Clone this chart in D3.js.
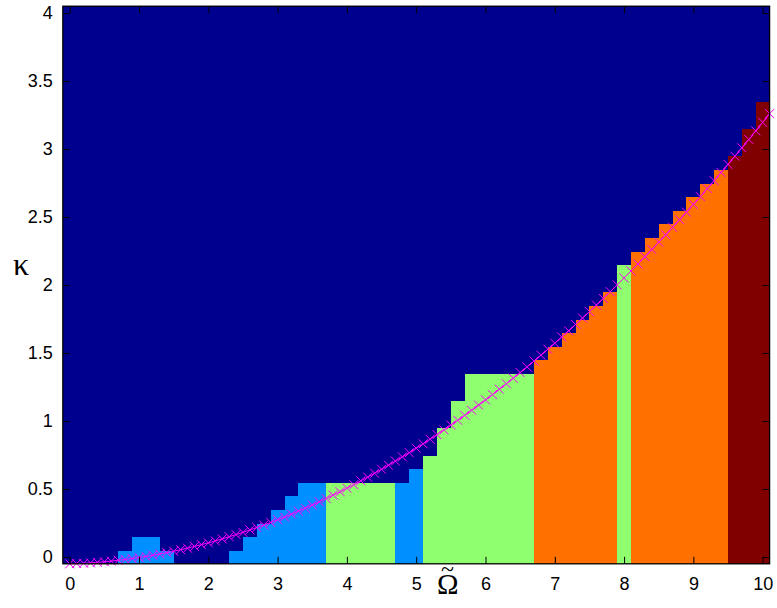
<!DOCTYPE html>
<html>
<head>
<meta charset="utf-8">
<script src="https://cdn.jsdelivr.net/npm/d3@7"></script>
<style>
  html, body { margin: 0; padding: 0; background: #fff; }
  svg { display: block; }
</style>
</head>
<body>
<div id="chart"></div>
<script>
// image columns (Omega centres), the colour level of each column and the
// kappa of the highest coloured cell (-1 = column is all background)
const cellOmega = [0, 0.2, 0.4, 0.6, 0.8, 1, 1.2, 1.4, 1.6, 1.8, 2, 2.2, 2.4, 2.6, 2.8, 3, 3.2, 3.4, 3.6, 3.8,
  4, 4.2, 4.4, 4.6, 4.8, 5, 5.2, 5.4, 5.6, 5.8, 6, 6.2, 6.4, 6.6, 6.8, 7, 7.2, 7.4, 7.6, 7.8,
  8, 8.2, 8.4, 8.6, 8.8, 9, 9.2, 9.4, 9.6, 9.8, 10];
const cellLevel = [0, 0, 0, 0, 1, 1, 1, 1, 0, 0, 0, 0, 1, 1, 1, 1, 1, 1, 1, 2,
  2, 2, 2, 2, 1, 1, 2, 2, 2, 2, 2, 2, 2, 2, 3, 3, 3, 3, 3, 3,
  2, 3, 3, 3, 3, 3, 3, 3, 4, 4, 4];
const cellTop = [-1, -1, -1, -1, 0, 0.1, 0.1, 0, -1, -1, -1, -1, 0, 0.1, 0.2, 0.3, 0.4, 0.5, 0.5, 0.5,
  0.5, 0.5, 0.5, 0.5, 0.5, 0.6, 0.7, 0.9, 1.1, 1.3, 1.3, 1.3, 1.3, 1.3, 1.4, 1.5, 1.6, 1.7, 1.8, 1.9,
  2.1, 2.2, 2.3, 2.4, 2.5, 2.6, 2.7, 2.8, 2.9, 3.1, 3.3];
// image rows (kappa centres)
const kappaRows = [0, 0.1, 0.2, 0.3, 0.4, 0.5, 0.6, 0.7, 0.8, 0.9, 1, 1.1, 1.2, 1.3, 1.4, 1.5, 1.6, 1.7, 1.8, 1.9,
  2, 2.1, 2.2, 2.3, 2.4, 2.5, 2.6, 2.7, 2.8, 2.9, 3, 3.1, 3.2, 3.3, 3.4, 3.5, 3.6, 3.7, 3.8, 3.9, 4];

// magenta curve
const curveOmega = [0, 0.1, 0.2, 0.3, 0.4, 0.5, 0.6, 0.7, 0.8, 0.9, 1, 1.1, 1.2, 1.3, 1.4, 1.5, 1.6, 1.7, 1.8, 1.9,
  2, 2.1, 2.2, 2.3, 2.4, 2.5, 2.6, 2.7, 2.8, 2.9, 3, 3.1, 3.2, 3.3, 3.4, 3.5, 3.6, 3.7, 3.8, 3.9,
  4, 4.1, 4.2, 4.3, 4.4, 4.5, 4.6, 4.7, 4.8, 4.9, 5, 5.1, 5.2, 5.3, 5.4, 5.5, 5.6, 5.7, 5.8, 5.9,
  6, 6.1, 6.2, 6.3, 6.4, 6.5, 6.6, 6.7, 6.8, 6.9, 7, 7.1, 7.2, 7.3, 7.4, 7.5, 7.6, 7.7, 7.8, 7.9,
  8, 8.1, 8.2, 8.3, 8.4, 8.5, 8.6, 8.7, 8.8, 8.9, 9, 9.1, 9.2, 9.3, 9.4, 9.5, 9.6, 9.7, 9.8, 9.9,
  10, 10.1];
const curveKappa = [-0.050, -0.048, -0.046, -0.043, -0.039, -0.035, -0.030, -0.024, -0.018, -0.011,
  -0.004, 0.004, 0.013, 0.022, 0.032, 0.042, 0.054, 0.065, 0.078, 0.091,
  0.104, 0.118, 0.133, 0.149, 0.165, 0.181, 0.199, 0.217, 0.235, 0.254,
  0.274, 0.294, 0.315, 0.337, 0.359, 0.382, 0.406, 0.430, 0.455, 0.480,
  0.506, 0.532, 0.560, 0.587, 0.616, 0.645, 0.675, 0.705, 0.736, 0.767,
  0.800, 0.832, 0.866, 0.900, 0.934, 0.970, 1.005, 1.042, 1.079, 1.117,
  1.155, 1.194, 1.234, 1.274, 1.315, 1.356, 1.398, 1.441, 1.484, 1.528,
  1.572, 1.618, 1.663, 1.710, 1.757, 1.804, 1.853, 1.901, 1.951, 2.001,
  2.052, 2.103, 2.155, 2.208, 2.261, 2.315, 2.369, 2.424, 2.480, 2.536,
  2.593, 2.650, 2.709, 2.767, 2.827, 2.887, 2.947, 3.009, 3.070, 3.133,
  3.196, 3.260];

const xTicks = [0, 1, 2, 3, 4, 5, 6, 7, 8, 9, 10];
const yTicks = [0, 0.5, 1, 1.5, 2, 2.5, 3, 3.5, 4];
const levelColors = ['#00008f', '#008fff', '#8fff70', '#ff7000', '#800000'];

const width = 777;
const height = 608;
const marginTop = 6.2;
const marginRight = 7.4;
const marginBottom = 44.2;
const marginLeft = 62.8;
const tickLen = 7;

const x = d3.scaleLinear()
  .domain([-0.1, 10.1])
  .range([marginLeft, width - marginRight]);

const y = d3.scaleLinear()
  .domain([-0.05, 4.05])
  .range([height - marginBottom, marginTop]);

const color = d3.scaleOrdinal().domain([0, 1, 2, 3, 4]).range(levelColors);

// build the image cells
const cells = [];
cellOmega.forEach((om, i) => {
  kappaRows.forEach(k => {
    const lev = k <= cellTop[i] + 1e-9 ? cellLevel[i] : 0;
    cells.push({ om, k, lev });
  });
});

const svg = d3.select('#chart')
  .append('svg')
  .attr('width', width)
  .attr('height', height)
  .attr('viewBox', [0, 0, width, height]);

svg.append('g')
  .attr('shape-rendering', 'crispEdges')
  .selectAll('rect')
  .data(cells)
  .join('rect')
  .attr('x', d => x(d.om - 0.1))
  .attr('y', d => y(d.k + 0.05))
  .attr('width', d => x(d.om + 0.1) - x(d.om - 0.1) + 0.5)
  .attr('height', d => y(d.k - 0.05) - y(d.k + 0.05) + 0.5)
  .attr('fill', d => color(d.lev));

// curve with x markers
const pts = curveOmega.map((om, i) => ({ om, k: curveKappa[i] }));
const line = d3.line()
  .x(d => x(d.om))
  .y(d => y(d.k));

svg.append('path')
  .datum(pts)
  .attr('fill', 'none')
  .attr('stroke', '#ff00ff')
  .attr('stroke-width', 1)
  .attr('d', line);

const m = 4.5;
svg.append('g')
  .selectAll('path')
  .data(pts)
  .join('path')
  .attr('d', d => {
    const cx = x(d.om), cy = y(d.k);
    return `M${cx - m},${cy - m}L${cx + m},${cy + m}M${cx - m},${cy + m}L${cx + m},${cy - m}`;
  })
  .attr('stroke', '#ff00ff')
  .attr('stroke-width', 1)
  .attr('fill', 'none');

// axes, ticks pointing inwards on all four sides
const fontTicks = '"Liberation Sans", Arial, Helvetica, sans-serif';

const gx = svg.append('g')
  .attr('transform', `translate(0,${height - marginBottom})`)
  .call(d3.axisBottom(x).tickValues(xTicks).tickFormat(d3.format('d'))
    .tickSizeInner(-tickLen).tickSizeOuter(0).tickPadding(13));

const gy = svg.append('g')
  .attr('transform', `translate(${marginLeft},0)`)
  .call(d3.axisLeft(y).tickValues(yTicks).tickFormat(d => String(d))
    .tickSizeInner(-tickLen).tickSizeOuter(0).tickPadding(10));

const gxTop = svg.append('g')
  .attr('transform', `translate(0,${marginTop})`)
  .call(d3.axisTop(x).tickValues(xTicks).tickFormat('')
    .tickSizeInner(-tickLen).tickSizeOuter(0));

const gyRight = svg.append('g')
  .attr('transform', `translate(${width - marginRight},0)`)
  .call(d3.axisRight(y).tickValues(yTicks).tickFormat('')
    .tickSizeInner(-tickLen).tickSizeOuter(0));

[gx, gy, gxTop, gyRight].forEach(g => {
  g.select('.domain').remove();
  g.selectAll('line').attr('stroke', '#000').attr('stroke-width', 1);
  g.selectAll('text')
    .attr('fill', '#000')
    .style('font-family', fontTicks)
    .style('font-size', '18px');
});

// frame
svg.append('rect')
  .attr('x', marginLeft)
  .attr('y', marginTop)
  .attr('width', width - marginLeft - marginRight)
  .attr('height', height - marginTop - marginBottom)
  .attr('fill', 'none')
  .attr('stroke', '#000')
  .attr('stroke-width', 1.3);

// axis labels
const fontLabel = '"Liberation Serif", "Times New Roman", serif';

svg.append('text')
  .attr('x', 21)
  .attr('y', 275)
  .attr('text-anchor', 'middle')
  .style('font-family', fontLabel)
  .style('font-size', '32px')
  .text('κ');

// Omega with a tilde on top, kept in one text element
const omLabel = svg.append('text')
  .attr('x', 437)
  .attr('y', 594)
  .style('font-family', fontLabel)
  .style('font-size', '29px');
omLabel.append('tspan').text('Ω');
omLabel.append('tspan')
  .attr('x', 441)
  .attr('y', 577)
  .style('font-size', '24px')
  .text('~');
</script>
</body>
</html>
